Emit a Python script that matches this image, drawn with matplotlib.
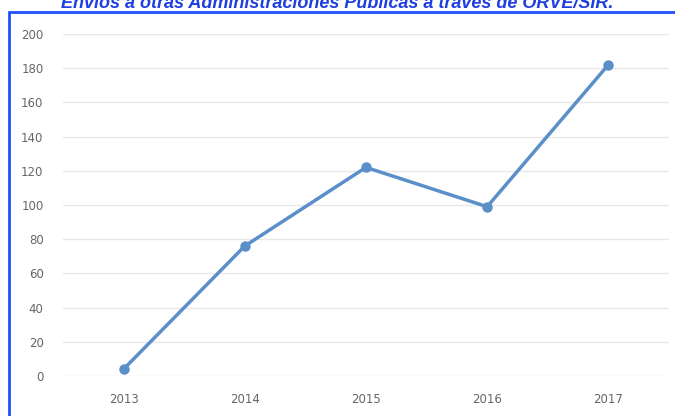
import matplotlib.pyplot as plt
from matplotlib.patches import Rectangle

years = ['2013', '2014', '2015', '2016', '2017']
envios = [4, 76, 122, 99, 182]
yticks = [0, 20, 40, 60, 80, 100, 120, 140, 160, 180, 200]

fig = plt.figure(figsize=(6.75, 4.16), dpi=100)
ax = fig.add_axes([0.0933, 0.0962, 0.8977, 0.822])

x = range(len(years))
ax.plot(x, envios, color='#5b8fc9', lw=2.5, marker='o', ms=6.5, zorder=3)

ax.set_xlim(-0.5, len(years) - 0.5)
ax.set_ylim(0, 200)
ax.set_xticks(list(x))
ax.set_xticklabels(years)
ax.set_yticks(yticks)
ax.tick_params(length=0, labelsize=8.5, labelcolor='#666666')
ax.tick_params(axis='x', pad=12)
ax.tick_params(axis='y', pad=14)
ax.yaxis.grid(True, color='#e8e8e8', lw=1)
ax.set_axisbelow(True)
for s in ax.spines.values():
    s.set_visible(False)

# blue frame around the chart (cropped at the bottom and right)
fig.patches.append(Rectangle((9 / 675, -0.05), 700 / 675, (416 - 12) / 416 + 0.05,
                             transform=fig.transFigure, fill=False,
                             edgecolor='#1f4fff', lw=2))

fig.text(0.5, 1.0 - 3 / 416, 'Envíos a otras Administraciones Públicas a través de ORVE/SIR.',
         ha='center', va='center', color='#1f3fe0', fontsize=13,
         fontweight='bold', fontstyle='italic', family='Liberation Sans')

fig.savefig('out.png', dpi=100)
